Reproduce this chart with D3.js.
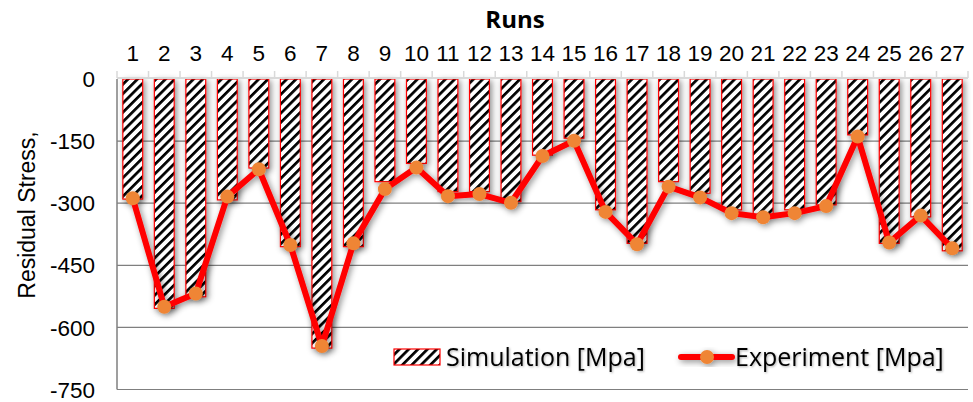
<!DOCTYPE html>
<html>
<head>
<meta charset="utf-8">
<script src="https://cdn.jsdelivr.net/npm/d3@7"></script>
<style>
  html, body { margin: 0; padding: 0; background: #fff; }
  svg { display: block; }
</style>
</head>
<body>
<svg id="chart" width="973" height="402"></svg>
<script>
// Run numbers (categories along the top axis)
const runs = ["1","2","3","4","5","6","7","8","9","10","11","12","13","14",
              "15","16","17","18","19","20","21","22","23","24","25","26","27"];

// Residual stress from simulation, MPa
const simulation = [-290,-554,-526,-292,-215,-405,-650,-405,-248,-204,-272,-272,-296,-184,
                    -143,-316,-397,-248,-276,-316,-328,-316,-304,-135,-397,-333,-415];

// Residual stress measured experimentally, MPa
const experiment = [-288,-550,-518,-284,-218,-401,-645,-397,-266,-214,-283,-278,-299,-186,
                    -149,-321,-399,-260,-286,-324,-334,-324,-307,-139,-395,-330,-409];

// Value axis ticks
const yTicks = [0, -150, -300, -450, -600, -750];

const svg = d3.select("#chart");
const W = 973, H = 402;
const plot = { left: 117, right: 968, top: 79, bottom: 389.5 };

svg.append("rect").attr("width", W).attr("height", H).attr("fill", "#fff");

const x = d3.scaleBand().domain(runs).range([plot.left, plot.right]).paddingInner(0).paddingOuter(0);
const y = d3.scaleLinear().domain([-750, 0]).range([plot.bottom, plot.top]);
const step = x.step();
const barW = step * 0.63;
const cx = r => x(r) + step / 2;

// ---- defs: hatch pattern + soft shadows ----
const defs = svg.append("defs");
const pat = defs.append("pattern")
  .attr("id", "hatch")
  .attr("patternUnits", "userSpaceOnUse")
  .attr("width", 6.6).attr("height", 6.6)
  .attr("patternTransform", "rotate(45)");
pat.append("rect").attr("width", 6.6).attr("height", 6.6).attr("fill", "#fff");
pat.append("rect").attr("width", 2.7).attr("height", 6.6).attr("fill", "#000");

const shadow = defs.append("filter").attr("id", "shadow")
  .attr("x", "-50%").attr("y", "-20%").attr("width", "200%").attr("height", "140%");
shadow.append("feDropShadow")
  .attr("dx", 2).attr("dy", 2).attr("stdDeviation", 3)
  .attr("flood-color", "#000").attr("flood-opacity", 0.45);

const textShadow = defs.append("filter").attr("id", "tshadow")
  .attr("x", "-10%").attr("y", "-30%").attr("width", "120%").attr("height", "160%");
textShadow.append("feDropShadow")
  .attr("dx", 1).attr("dy", 1).attr("stdDeviation", 1)
  .attr("flood-color", "#000").attr("flood-opacity", 0.3);

// ---- gridlines ----
const grid = svg.append("g");
grid.selectAll("line.grid")
  .data(yTicks.filter(t => t !== 0))
  .join("line")
  .attr("x1", plot.left).attr("x2", plot.right)
  .attr("y1", d => y(d)).attr("y2", d => y(d))
  .attr("stroke", "#7f7f7f").attr("stroke-width", 1.2);

// left axis line
grid.append("line")
  .attr("x1", plot.left).attr("x2", plot.left)
  .attr("y1", y(0)).attr("y2", y(-750))
  .attr("stroke", "#7f7f7f").attr("stroke-width", 1.5);

// ---- simulation bars ----
svg.append("g").attr("filter", "url(#shadow)")
  .selectAll("rect")
  .data(runs.map((r, i) => ({ r, v: simulation[i] })))
  .join("rect")
  .attr("x", d => cx(d.r) - barW / 2)
  .attr("y", y(0))
  .attr("width", barW)
  .attr("height", d => y(d.v) - y(0))
  .attr("fill", "url(#hatch)")
  .attr("stroke", "#ff0000")
  .attr("stroke-width", 1.2);

// ---- top category axis ----
const gTop = svg.append("g").attr("transform", `translate(0,${plot.top})`);
gTop.append("line")
  .attr("x1", plot.left).attr("x2", plot.right)
  .attr("y1", -1).attr("y2", -1)
  .attr("stroke", "#d9d9d9").attr("stroke-width", 2);
gTop.selectAll("line.tk")
  .data(runs.concat(["end"]))
  .join("line")
  .attr("class", "tk")
  .attr("x1", (d, i) => i < runs.length ? x(d) : plot.right)
  .attr("x2", (d, i) => i < runs.length ? x(d) : plot.right)
  .attr("y1", -1).attr("y2", -8)
  .attr("stroke", "#d9d9d9").attr("stroke-width", 1.5);
gTop.selectAll("text")
  .data(runs)
  .join("text")
  .attr("x", d => cx(d))
  .attr("y", -18)
  .attr("text-anchor", "middle")
  .attr("font-family", "Liberation Sans, Arial, sans-serif")
  .attr("font-size", 22.5)
  .attr("fill", "#000")
  .text(d => d);

svg.append("text")
  .attr("x", 515).attr("y", 28)
  .attr("text-anchor", "middle")
  .attr("font-family", "Open Sans, sans-serif")
  .attr("font-weight", "bold")
  .attr("font-size", 24)
  .text("Runs");

// ---- left value axis labels ----
svg.append("g").selectAll("text")
  .data(yTicks)
  .join("text")
  .attr("x", 95)
  .attr("y", d => y(d))
  .attr("dy", "0.36em")
  .attr("text-anchor", "end")
  .attr("font-family", "Liberation Sans, Arial, sans-serif")
  .attr("font-size", 22.5)
  .text(d => d);

svg.append("text")
  .attr("transform", "translate(35,215) rotate(-90)")
  .attr("text-anchor", "middle")
  .attr("font-family", "Liberation Sans, Arial, sans-serif")
  .attr("font-size", 23)
  .text("Residual Stress,");

// ---- experiment line with markers ----
const gExp = svg.append("g").attr("filter", "url(#shadow)");
const line = d3.line().x(d => cx(d.r)).y(d => y(d.v));
const expData = runs.map((r, i) => ({ r, v: experiment[i] }));
gExp.append("path")
  .datum(expData)
  .attr("d", line)
  .attr("fill", "none")
  .attr("stroke", "#ff0000")
  .attr("stroke-width", 6)
  .attr("stroke-linejoin", "round");
gExp.selectAll("circle")
  .data(expData)
  .join("circle")
  .attr("cx", d => cx(d.r))
  .attr("cy", d => y(d.v))
  .attr("r", 7)
  .attr("fill", "#ef8535");

// ---- legend ----
const legend = svg.append("g");
legend.append("rect")
  .attr("x", 394).attr("y", 349).attr("width", 46).attr("height", 16)
  .attr("fill", "url(#hatch)").attr("stroke", "#ff0000").attr("stroke-width", 1.2);
legend.append("text")
  .attr("x", 446).attr("y", 366)
  .attr("font-family", "Open Sans, sans-serif")
  .attr("font-size", 25)
  .attr("filter", "url(#tshadow)")
  .text("Simulation [Mpa]");
const lgExp = legend.append("g").attr("filter", "url(#shadow)");
lgExp.append("line")
  .attr("x1", 681).attr("x2", 732).attr("y1", 357).attr("y2", 357)
  .attr("stroke", "#ff0000").attr("stroke-width", 6).attr("stroke-linecap", "round");
lgExp.append("circle")
  .attr("cx", 707).attr("cy", 357).attr("r", 7).attr("fill", "#ef8535");
legend.append("text")
  .attr("x", 735).attr("y", 366)
  .attr("font-family", "Open Sans, sans-serif")
  .attr("font-size", 25)
  .attr("filter", "url(#tshadow)")
  .text("Experiment [Mpa]");
</script>
</body>
</html>
